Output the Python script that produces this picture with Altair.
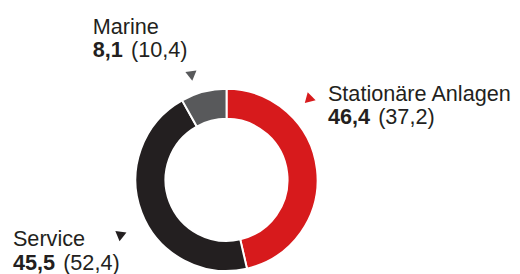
import altair as alt
import pandas as pd

# Data
categories = ["Stationäre Anlagen", "Service", "Marine"]
values = [46.4, 45.5, 8.1]
prev_values = [37.2, 52.4, 10.4]
colors = ["#d71a1c", "#231f20", "#58595b"]

def de(v):
    return f"{v:.1f}".replace(".", ",")

df = pd.DataFrame({
    "category": categories,
    "value": values,
    "prev": prev_values,
    "order": list(range(len(categories))),
})
df["cur_label"] = [de(v) for v in values]
df["prev_label"] = [f"({de(v)})" for v in prev_values]

CX, CY = 222, 172.5
FONT = "Liberation Sans"
FS = 22
TXT = "#231f20"

donut = alt.Chart(df).mark_arc(
    outerRadius=92.5, innerRadius=62, stroke="white", strokeWidth=2
).encode(
    theta=alt.Theta("value:Q", stack=True),
    color=alt.Color("category:N", scale=alt.Scale(domain=categories, range=colors), legend=None),
    order=alt.Order("order:Q"),
    x=alt.value(CX),
    y=alt.value(CY),
)

# label layout per category: (x, baseline1, baseline2, x_prev, tri_x, tri_y, tri_angle)
layout = {
    "Stationäre Anlagen": (325, 92, 116, 376, 305, 91, 45),
    "Service": (5, 240, 264, 56, 114, 230, 8),
    "Marine": (86, 24, 48, 125, 186.5, 67, 352),
}

layers = [donut]
for cat, col in zip(categories, colors):
    x, b1, b2, xp, tx, ty, ang = layout[cat]
    sub = alt.Chart(df).transform_filter(alt.datum.category == cat)
    layers.append(sub.mark_text(align="left", baseline="alphabetic", font=FONT, fontSize=FS, color=TXT)
                  .encode(x=alt.value(x), y=alt.value(b1), text="category:N"))
    layers.append(sub.mark_text(align="left", baseline="alphabetic", font=FONT, fontSize=FS,
                                fontWeight="bold", color=TXT)
                  .encode(x=alt.value(x), y=alt.value(b2), text="cur_label:N"))
    layers.append(sub.mark_text(align="left", baseline="alphabetic", font=FONT, fontSize=FS, color=TXT)
                  .encode(x=alt.value(xp), y=alt.value(b2), text="prev_label:N"))
    layers.append(sub.mark_point(shape="triangle-down", filled=True, size=130, angle=ang,
                                 color=col, opacity=1, strokeWidth=0)
                  .encode(x=alt.value(tx), y=alt.value(ty)))

chart = alt.layer(*layers).properties(
    width=512, height=266, padding=0,
    autosize=alt.AutoSizeParams(type="none"),
).configure_view(stroke=None)

chart.save("out.html", embed_options={"renderer": "svg", "actions": False})
